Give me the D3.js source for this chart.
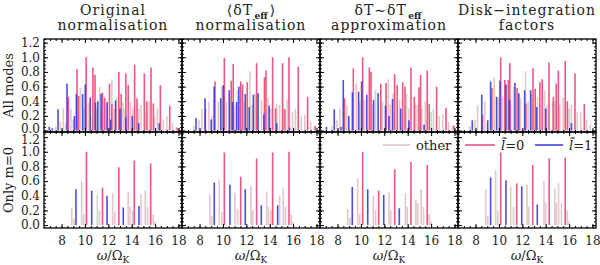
<!DOCTYPE html>
<html><head><meta charset="utf-8">
<script src="https://cdn.jsdelivr.net/npm/d3@7"></script>
<style>body{margin:0;background:#fff}svg{display:block}text{font-family:"DejaVu Serif",serif;fill:#222}</style>
</head><body>
<script>
// ---------- data ----------
const panelTitles = [["Original","normalisation"],["⟨δT_eff⟩","normalisation"],["δT∼δT_eff","approximation"],["Disk−integration","factors"]];
const rowLabels = ["All modes","Only m=0"];
const xTicks = [8,10,12,14,16,18];
const yTicks = [0,0.2,0.4,0.6,0.8,1.0,1.2];

// top row: all modes  [frequency ω/Ω_K, normalised amplitude]
const redAll1 = [[8.58,0.46],[9.32,0.84],[9.45,0.47],[10.1,1.0],[10.68,0.86],[10.86,0.76],[11.5,0.52],[11.68,0.45],[12.1,0.64],[12.3,0.36],[12.9,0.8],[13.1,0.5],[13.5,0.78],[13.7,0.62],[14.25,0.9],[14.45,0.44],[15.08,0.78],[15.3,0.4],[15.65,0.86],[15.85,0.37],[16.45,0.62],[17.25,0.34],[17.9,0.04]];
const blueAll1 = [[6.95,0.05],[7.2,0.03],[7.7,0.29],[8.47,0.64],[9.1,0.2],[9.27,0.5],[9.8,0.5],[10.03,0.63],[10.45,0.45],[10.9,0.38],[11.1,0.4],[11.38,0.5],[11.9,0.39],[12.2,0.15],[12.62,0.41],[13.0,0.3],[13.5,0.18],[14.05,0.2],[14.6,0.1],[16.35,0.1]];
const otherAll1 = [[7.5,0.05],[7.9,0.12],[8.15,0.3],[8.35,0.1],[8.8,0.3],[9.0,0.15],[9.6,0.58],[9.9,0.3],[10.3,0.38],[10.5,0.2],[11.0,0.3],[11.25,0.6],[11.8,0.35],[12.3,0.7],[12.5,0.3],[12.7,0.45],[13.25,0.38],[13.35,0.3],[13.9,0.4],[14.1,0.3],[14.6,0.3],[14.8,0.35],[15.2,0.25],[15.5,0.4],[15.95,0.2],[16.2,0.3],[16.7,0.15],[17.0,0.2],[17.5,0.1],[17.8,0.05],[18.0,0.03]];

const redAll2 = [[8.5,0.29],[9.32,0.67],[10.12,0.99],[10.71,0.68],[10.88,0.91],[11.52,0.67],[11.68,0.63],[12.08,0.66],[12.88,0.92],[13.55,0.73],[13.68,0.82],[14.25,1.0],[14.5,0.3],[15.1,0.92],[15.3,0.29],[15.65,1.0],[16.44,0.87],[17.24,0.46],[17.9,0.06]];
const blueAll2 = [[7.7,0.17],[8.47,0.44],[9.0,0.15],[9.25,0.6],[9.81,0.44],[10.03,0.62],[10.54,0.55],[10.83,0.39],[11.17,0.39],[11.36,0.6],[11.91,0.5],[12.25,0.32],[12.6,0.49],[13.0,0.51],[13.5,0.22],[13.95,0.34],[14.6,0.1],[15.7,0.04]];
const otherAll2 = [[7.5,0.06],[7.95,0.15],[8.2,0.3],[8.8,0.39],[9.05,0.2],[9.6,0.4],[9.9,0.6],[10.3,0.4],[11.0,0.35],[11.25,0.55],[11.8,0.4],[12.31,0.81],[12.5,0.35],[12.75,0.5],[13.3,0.42],[13.85,0.45],[14.1,0.3],[14.6,0.37],[14.85,0.35],[15.2,0.3],[15.5,0.42],[15.95,0.25],[16.2,0.3],[16.7,0.2],[17.0,0.22],[17.5,0.12],[17.8,0.06]];

const redAll3 = [[8.6,0.44],[9.35,0.85],[10.15,1.0],[10.72,0.86],[10.86,0.8],[11.7,0.64],[12.15,0.65],[12.88,0.77],[13.1,0.62],[13.57,0.66],[13.77,0.6],[14.28,0.86],[14.56,0.46],[14.96,0.59],[15.1,0.76],[15.67,0.82],[15.84,0.36],[16.47,0.6],[17.27,0.31],[17.95,0.07]];
const blueAll3 = [[7.05,0.05],[7.72,0.29],[8.3,0.05],[8.49,0.69],[8.96,0.2],[9.27,0.52],[9.8,0.53],[10.06,0.67],[10.5,0.49],[11.08,0.42],[11.47,0.51],[12.1,0.34],[12.4,0.2],[12.7,0.43],[13.4,0.3],[14.1,0.14],[15.4,0.08]];
const otherAll3 = [[7.5,0.06],[7.95,0.15],[8.2,0.3],[8.8,0.35],[9.6,0.64],[9.9,0.4],[10.3,0.42],[11.0,0.35],[11.25,0.55],[11.85,0.4],[12.35,0.7],[12.5,0.35],[12.75,0.5],[13.3,0.42],[13.9,0.5],[14.1,0.3],[14.65,0.37],[14.8,0.35],[15.2,0.3],[15.5,0.4],[16.0,0.25],[16.2,0.3],[16.7,0.2],[17.0,0.22],[17.5,0.12],[17.8,0.06]];

const redAll4 = [[8.6,0.22],[9.4,0.58],[10.15,1.0],[10.5,0.69],[10.8,0.69],[10.93,0.92],[11.55,0.58],[12.3,0.37],[12.91,0.85],[13.1,0.57],[13.5,0.66],[13.7,0.7],[14.28,0.93],[14.66,0.46],[14.9,0.64],[15.08,0.82],[15.67,0.95],[15.85,0.4],[16.5,0.78],[17.3,0.36]];
const blueAll4 = [[7.72,0.14],[8.53,0.49],[9.04,0.14],[9.29,0.67],[9.8,0.46],[10.09,0.68],[10.6,0.63],[10.9,0.42],[11.37,0.65],[11.7,0.51],[12.2,0.55],[12.71,0.55],[13.23,0.32],[14.0,0.3],[16.2,0.1]];
const otherAll4 = [[7.5,0.06],[7.95,0.15],[8.17,0.35],[8.8,0.4],[9.6,0.72],[9.95,0.45],[10.3,0.45],[11.0,0.4],[11.25,0.6],[11.85,0.45],[12.27,0.81],[12.5,0.4],[12.8,0.5],[13.3,0.45],[13.9,0.55],[14.1,0.35],[14.6,0.4],[14.8,0.4],[15.2,0.35],[15.5,0.45],[16.0,0.3],[16.2,0.35],[16.7,0.25],[17.0,0.25],[17.5,0.15],[17.8,0.08]];

// bottom row: only m=0
const redM1 = [[10.13,1.0],[11.5,0.51],[12.9,0.79],[14.22,0.88],[15.62,0.84]];
const blueM1 = [[9.23,0.49],[10.58,0.47],[11.89,0.4],[13.28,0.24],[14.62,0.26]];
const otherM1 = [[8.87,0.23],[9.05,0.08],[9.72,0.6],[9.9,0.15],[11.06,0.42],[11.25,0.2],[12.37,0.44],[12.55,0.18],[13.7,0.45],[13.85,0.25],[14.08,0.2],[14.8,0.42],[15.16,0.47],[15.35,0.25],[15.84,0.15],[16.0,0.05]];

const redM2 = [[10.12,0.99],[11.52,0.66],[12.88,0.91],[14.25,0.99],[15.65,1.0]];
const blueM2 = [[9.26,0.58],[10.6,0.55],[11.91,0.49],[13.28,0.27],[14.68,0.27]];
const otherM2 = [[8.89,0.41],[9.05,0.12],[9.69,0.62],[9.9,0.18],[11.03,0.44],[11.25,0.22],[12.4,0.53],[12.55,0.2],[13.74,0.46],[13.9,0.25],[14.1,0.2],[14.85,0.4],[15.16,0.5],[15.35,0.25],[15.84,0.15],[16.0,0.05]];

const redM3 = [[10.15,1.0],[11.52,0.47],[12.89,0.76],[14.28,0.86],[15.67,0.82]];
const blueM3 = [[9.26,0.52],[10.58,0.49],[11.95,0.41],[13.28,0.23]];
const otherM3 = [[8.87,0.22],[9.05,0.1],[9.72,0.64],[9.9,0.15],[11.06,0.4],[11.25,0.2],[12.4,0.45],[12.55,0.2],[13.8,0.44],[13.95,0.25],[14.7,0.35],[14.85,0.3],[15.15,0.49],[15.35,0.25],[15.84,0.15],[16.0,0.05]];

const redM4 = [[10.15,0.99],[11.52,0.57],[12.89,0.82],[14.3,0.91],[15.67,0.92]];
const blueM4 = [[9.29,0.65],[10.6,0.61],[11.95,0.53],[13.28,0.28]];
const otherM4 = [[8.87,0.49],[9.05,0.12],[9.72,0.75],[9.9,0.2],[11.0,0.53],[11.25,0.25],[12.4,0.55],[12.55,0.25],[13.85,0.6],[14.0,0.3],[14.78,0.5],[14.9,0.3],[15.1,0.57],[15.35,0.3],[15.84,0.2],[16.0,0.06]];

const topRow = [[otherAll1,redAll1,blueAll1],[otherAll2,redAll2,blueAll2],[otherAll3,redAll3,blueAll3],[otherAll4,redAll4,blueAll4]];
const bottomRow = [[otherM1,redM1,blueM1],[otherM2,redM2,blueM2],[otherM3,redM3,blueM3],[otherM4,redM4,blueM4]];

// ---------- drawing ----------
const W = 600, H = 265;
const colors = ["#dfc2c2", "#ec4474", "#3838e0"];
const svg = d3.select("body").append("svg").attr("width", W).attr("height", H);

const px0 = 44, pw = 138;
const rows = [{y0:39, y1:132, dom:[-0.02,1.25], data:topRow}, {y0:132, y1:228, dom:[-0.04,1.27], data:bottomRow}];

rows.forEach((row, ri) => {
  const y = d3.scaleLinear().domain(row.dom).range([row.y1, row.y0]);
  row.data.forEach((series, pi) => {
    const left = px0 + pi*pw;
    const x = d3.scaleLinear().domain([6.5,18.3]).range([left, left+pw]);
    const g = svg.append("g");
    series.forEach((arr, si) => {
      g.selectAll(null).data(arr).enter().append("rect")
        .attr("x", d => x(d[0]) - 0.8).attr("width", 1.6)
        .attr("y", d => y(d[1])).attr("height", d => y(0) - y(d[1]))
        .attr("fill", colors[si]).attr("opacity", 0.9);
    });
    // axes with inward ticks
    const mk = (axis, tr) => g.append("g").attr("transform", tr).call(axis)
      .call(s => s.select(".domain").remove()).call(s => s.selectAll("text").remove())
      .call(s => s.selectAll("line").attr("stroke", "#000"));
    const minorX = d3.range(7, 18.01, 0.5);
    const minorY = d3.range(0, 1.251, 0.05);
    mk(d3.axisBottom(x).tickValues(minorX).tickSize(-2), `translate(0,${row.y1})`);
    mk(d3.axisBottom(x).tickValues(xTicks).tickSize(-4), `translate(0,${row.y1})`);
    mk(d3.axisTop(x).tickValues(minorX).tickSize(-2), `translate(0,${row.y0})`);
    mk(d3.axisTop(x).tickValues(xTicks).tickSize(-4), `translate(0,${row.y0})`);
    mk(d3.axisLeft(y).tickValues(minorY).tickSize(-2), `translate(${left},0)`);
    mk(d3.axisLeft(y).tickValues(yTicks).tickSize(-4), `translate(${left},0)`);
    mk(d3.axisRight(y).tickValues(minorY).tickSize(-2), `translate(${left+pw},0)`);
    mk(d3.axisRight(y).tickValues(yTicks).tickSize(-4), `translate(${left+pw},0)`);
    g.append("rect").attr("x", left).attr("y", row.y0).attr("width", pw).attr("height", row.y1-row.y0)
      .attr("fill", "none").attr("stroke", "#000").attr("stroke-width", 1.3);

    if (pi === 0) {
      const ya = d3.axisLeft(y).tickValues(yTicks).tickFormat(d3.format(".1f")).tickSize(0).tickPadding(4);
      svg.append("g").attr("transform", `translate(${left},0)`).call(ya)
        .call(s => s.select(".domain").remove())
        .call(s => s.selectAll("text").attr("font-family", "DejaVu Serif").attr("font-size", 12).attr("fill", "#222")
          .attr("dy", d => (ri === 0 && d === 0) ? "0.2em" : (ri === 1 && d === 1.2) ? "0.5em" : "0.32em"));
      svg.append("text").attr("transform", `translate(13,${(row.y0+row.y1)/2}) rotate(-90)`)
        .attr("text-anchor", "middle").attr("font-size", 13).text(rowLabels[ri]);
    }
    if (ri === 1) {
      const xa = d3.axisBottom(x).tickValues(xTicks).tickFormat(d3.format("d")).tickSize(0).tickPadding(8);
      svg.append("g").attr("transform", `translate(0,${row.y1})`).call(xa)
        .call(s => s.select(".domain").remove())
        .call(s => s.selectAll("text").attr("font-family", "DejaVu Serif").attr("font-size", 12).attr("fill", "#222"));
      const t = svg.append("text").attr("x", left + pw/2).attr("y", 260).attr("text-anchor", "middle").attr("font-size", 13);
      t.append("tspan").attr("font-style", "italic").text("ω");
      t.append("tspan").text("/Ω");
      t.append("tspan").attr("font-size", 9).attr("dy", 3).text("K");
    }
    if (ri === 0) {
      const cx = left + pw/2;
      const [l1, l2] = panelTitles[pi];
      const parts = l1.split("_");
      if (parts.length > 1) {
        const sub = parts[1].replace("⟩", "");
        const close = parts[1].includes("⟩") ? "⟩" : "";
        const g2 = svg.append("g");
        const tMain = g2.append("text").attr("y", 15).attr("font-size", 14).attr("letter-spacing", 1).text(parts[0]);
        const tSub = g2.append("text").attr("y", 19).attr("font-size", 9).attr("font-weight", "bold").text(sub);
        const tClose = close ? g2.append("text").attr("y", 15).attr("font-size", 14).text(close) : null;
        const w1 = tMain.node().getBBox().width, w2 = tSub.node().getBBox().width, w3 = tClose ? tClose.node().getBBox().width : 0;
        const start = cx - (w1 + w2 + w3 + 3) / 2;
        tMain.attr("x", start);
        tSub.attr("x", start + w1 + 1.5);
        if (tClose) tClose.attr("x", start + w1 + w2 + 3);
      } else {
        svg.append("text").attr("x", cx).attr("y", 15).attr("text-anchor", "middle").attr("font-size", 14).attr("letter-spacing", 1).text(l1);
      }
      svg.append("text").attr("x", cx).attr("y", 30).attr("text-anchor", "middle").attr("font-size", 14).attr("letter-spacing", 1).text(l2);
    }
  });
});

// legend
const legendItems = [{x1:383, x2:410, c:colors[0], label:"other"}, {x1:465, x2:495, c:colors[1], label:"0"}, {x1:535, x2:563, c:colors[2], label:"1"}];
legendItems.forEach((d, i) => {
  svg.append("line").attr("x1", d.x1).attr("x2", d.x2).attr("y1", 145).attr("y2", 145).attr("stroke", d.c).attr("stroke-width", 1.5);
  const t = svg.append("text").attr("x", d.x2 + 6).attr("y", 149.5).attr("font-size", 13);
  if (i === 0) t.text(d.label);
  else { t.append("tspan").attr("font-style", "italic").text("l\u0303"); t.append("tspan").text("=" + d.label); }
});
</script>
</body></html>
